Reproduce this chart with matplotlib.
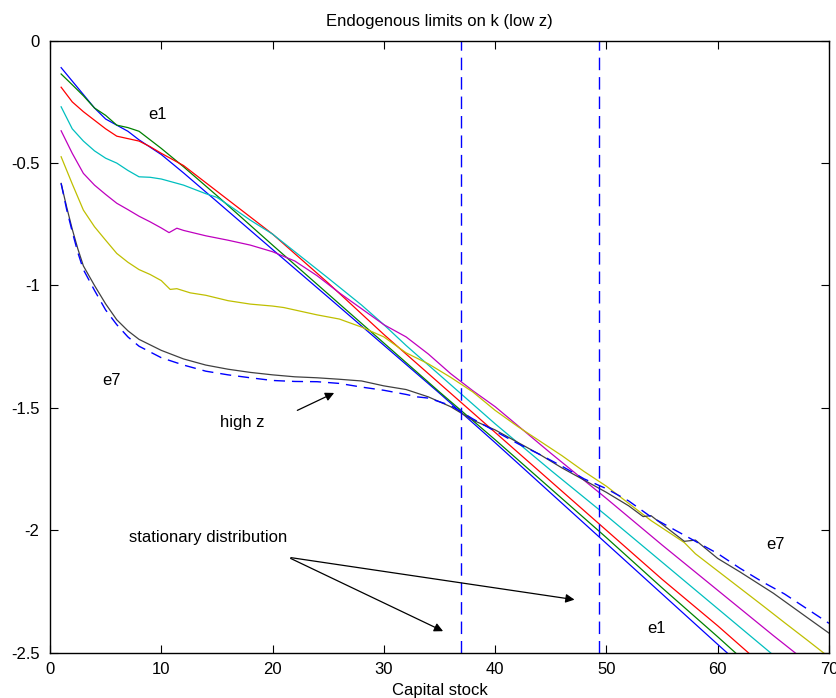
import matplotlib
matplotlib.use("Agg")
import matplotlib.pyplot as plt
from matplotlib.ticker import FixedLocator, FixedFormatter

plt.rcParams["font.family"] = ["Liberation Sans", "DejaVu Sans"]
plt.rcParams["font.size"] = 12

# limits on k for each efficiency state
k_e1 = [1, 2, 3, 4, 5, 6, 7, 8, 9, 10, 12, 15, 20, 25, 30, 35, 40, 45, 50, 55, 60, 65]
e1 = [-0.11, -0.165, -0.22, -0.275, -0.32, -0.345, -0.37, -0.405, -0.435, -0.465, -0.54,
      -0.657, -0.853, -1.048, -1.244, -1.44, -1.642, -1.848, -2.054, -2.26, -2.466, -2.67]

k_e2 = [1, 2, 3, 4, 5, 6, 7, 8, 9, 10, 12, 15, 20, 25, 30, 35, 40, 45, 50, 55, 60, 65]
e2 = [-0.136, -0.18, -0.225, -0.275, -0.305, -0.345, -0.355, -0.37, -0.405, -0.44, -0.515,
      -0.633, -0.835, -1.035, -1.235, -1.435, -1.63, -1.83, -2.03, -2.235, -2.435, -2.64]

k_e3 = [1, 2, 3, 4, 5, 6, 7, 8, 9, 10, 12, 15, 20, 25, 30, 35, 40, 45, 50, 55, 60, 65]
e3 = [-0.19, -0.25, -0.29, -0.325, -0.36, -0.39, -0.4, -0.41, -0.433, -0.46, -0.51,
      -0.615, -0.79, -0.99, -1.2, -1.4, -1.6, -1.8, -2.0, -2.2, -2.39, -2.59]

k_e4 = [1, 2, 3, 4, 5, 6, 7, 8, 9, 10, 12, 14, 15, 16, 18, 20, 22, 25, 28, 30, 32, 35,
        37, 40, 45, 50, 55, 60, 65]
e4 = [-0.27, -0.36, -0.41, -0.45, -0.48, -0.50, -0.53, -0.556, -0.558, -0.565, -0.59,
      -0.625, -0.64, -0.67, -0.733, -0.79, -0.862, -0.97, -1.08, -1.16, -1.245, -1.365,
      -1.445, -1.565, -1.755, -1.94, -2.13, -2.32, -2.51]

k_e5 = [1, 2, 3, 4, 5, 6, 7, 8, 9, 10, 10.7, 11.4, 12, 14, 16, 18, 20, 22, 24, 26, 28,
        30, 32, 34, 36, 38, 40, 45, 50, 55, 60, 65, 70]
e5 = [-0.368, -0.46, -0.542, -0.59, -0.628, -0.664, -0.69, -0.717, -0.74, -0.765, -0.784,
      -0.766, -0.775, -0.797, -0.815, -0.835, -0.862, -0.9, -0.96, -1.03, -1.095, -1.16,
      -1.21, -1.28, -1.36, -1.43, -1.495, -1.685, -1.87, -2.06, -2.245, -2.43, -2.61]

k_e6 = [1, 2, 3, 4, 5, 6, 7, 8, 9, 10, 10.8, 11.4, 12.6, 14, 16, 18, 20, 21, 22.5, 24,
        26, 28, 30, 32, 34, 36, 38, 40, 42, 44, 46, 48, 50, 52, 54, 56, 57, 58, 60, 62,
        64, 66, 68, 70]
e6 = [-0.474, -0.585, -0.692, -0.76, -0.815, -0.869, -0.905, -0.935, -0.955, -0.98,
      -1.016, -1.013, -1.03, -1.04, -1.062, -1.076, -1.084, -1.09, -1.105, -1.12, -1.137,
      -1.17, -1.21, -1.275, -1.32, -1.375, -1.435, -1.51, -1.575, -1.635, -1.695, -1.76,
      -1.82, -1.89, -1.96, -2.02, -2.05, -2.096, -2.166, -2.236, -2.306, -2.377, -2.447,
      -2.518]

k_e7 = [1, 1.5, 2, 2.5, 3, 4, 5, 6, 7, 8, 10, 12, 14, 16, 18, 20, 22, 24, 26, 28, 30,
        32, 34, 36, 38, 40, 42, 44, 46, 48, 50, 52, 53.3, 54, 56, 57, 58, 60, 62, 65, 68,
        70]
e7 = [-0.583, -0.68, -0.77, -0.85, -0.92, -1.0, -1.075, -1.14, -1.185, -1.22, -1.265,
      -1.3, -1.325, -1.342, -1.355, -1.365, -1.373, -1.377, -1.383, -1.39, -1.41, -1.425,
      -1.455, -1.495, -1.55, -1.59, -1.64, -1.69, -1.745, -1.795, -1.845, -1.9, -1.944,
      -1.94, -2.01, -2.045, -2.04, -2.115, -2.17, -2.257, -2.355, -2.42]

k_high = [1, 1.5, 2, 2.5, 3, 4, 5, 6, 7, 8, 10, 12, 14, 16, 18, 20, 22, 24, 26, 28, 30,
          32, 33, 34, 36, 38, 40, 42, 44, 46, 48, 50, 52, 54, 56, 58, 60, 62, 64, 66, 68,
          70]
high_z = [-0.583, -0.69, -0.78, -0.865, -0.935, -1.02, -1.1, -1.16, -1.21, -1.248, -1.295,
          -1.325, -1.35, -1.365, -1.377, -1.388, -1.392, -1.393, -1.4, -1.415, -1.428,
          -1.445, -1.455, -1.46, -1.49, -1.545, -1.595, -1.645, -1.69, -1.738, -1.79,
          -1.83, -1.88, -1.945, -1.995, -2.045, -2.095, -2.155, -2.21, -2.26, -2.32, -2.38]

# bounds of the stationary distribution
stat_bounds = [36.9, 49.35]

x_ticks = [0, 10, 20, 30, 40, 50, 60, 70]
y_ticks = [0, -0.5, -1, -1.5, -2, -2.5]
y_tick_labels = ["0", "-0.5", "-1", "-1.5", "-2", "-2.5"]

curves = [(k_e1, e1, "#0000ff"), (k_e2, e2, "#008000"), (k_e3, e3, "#ff0000"),
          (k_e4, e4, "#00bfbf"), (k_e5, e5, "#bf00bf"), (k_e6, e6, "#bfbf00"),
          (k_e7, e7, "#404040")]

fig = plt.figure(figsize=(8.36, 6.98), dpi=100)
ax = fig.add_axes([0.0598, 0.0649, 0.9318, 0.8768])

for k, v, c in curves:
    ax.plot(k, v, color=c, lw=0.9)
ax.plot(k_high, high_z, color="#0000ff", lw=1.0, dashes=(8, 5))
for xb in stat_bounds:
    ax.axvline(xb, color="#0000ff", lw=1.0, dashes=(9, 5))

ax.set_xlim(0, 70)
ax.set_ylim(-2.5, 0)
ax.xaxis.set_major_locator(FixedLocator(x_ticks))
ax.yaxis.set_major_locator(FixedLocator(y_ticks))
ax.yaxis.set_major_formatter(FixedFormatter(y_tick_labels))
ax.tick_params(direction="in", length=5.5, width=0.8, top=True, right=True, labelsize=12)
ax.tick_params(axis="y", pad=7.5)
ax.tick_params(axis="x", pad=6.5)
for s in ax.spines.values():
    s.set_linewidth(1.0)

ax.set_title("Endogenous limits on k (low z)", fontsize=12, pad=10.5)
ax.set_xlabel("Capital stock", fontsize=12, labelpad=4.5)

ax.text(9.7, -0.30, "e1", ha="center", va="center", fontsize=12)
ax.text(5.5, -1.39, "e7", ha="center", va="center", fontsize=12)
ax.text(65.2, -2.06, "e7", ha="center", va="center", fontsize=12)
ax.text(54.5, -2.40, "e1", ha="center", va="center", fontsize=12)
ax.text(17.3, -1.56, "high z", ha="center", va="center", fontsize=12)
ax.text(14.2, -2.03, "stationary distribution", ha="center", va="center", fontsize=12)

arrow = dict(arrowstyle="-|>", color="black", lw=0.9, mutation_scale=13)
ax.annotate("", xy=(25.76, -1.434), xytext=(22.0, -1.515), arrowprops=arrow)
ax.annotate("", xy=(35.55, -2.417), xytext=(21.4, -2.11), arrowprops=arrow)
ax.annotate("", xy=(47.38, -2.285), xytext=(21.4, -2.11), arrowprops=arrow)

fig.savefig("out.png", dpi=100)
